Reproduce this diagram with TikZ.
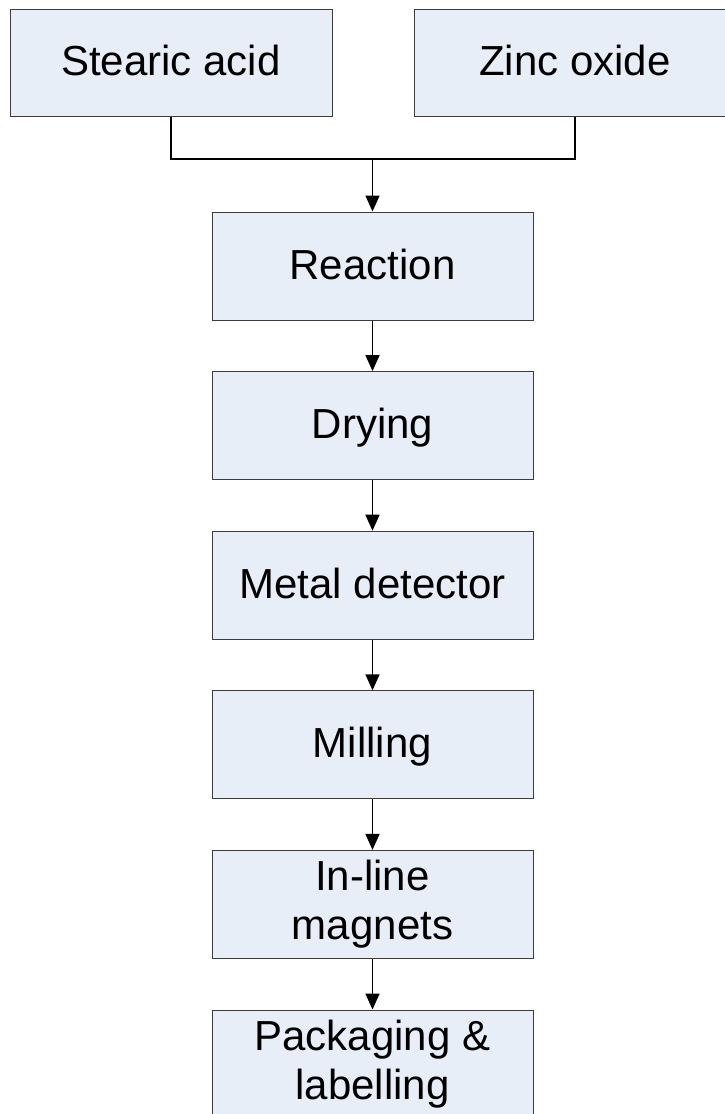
\documentclass[tikz,border=0pt]{standalone}
\usepackage{fontspec}
\setmainfont{Liberation Sans}
\usetikzlibrary{arrows.meta}
\definecolor{boxfill}{RGB}{232,238,247}
\definecolor{boxline}{RGB}{60,60,60}
\begin{document}
\begin{tikzpicture}[x=1pt,y=1pt,
  procbox/.style={draw=boxline, line width=1pt, fill=boxfill, inner sep=0pt,
    minimum width=321pt, minimum height=108pt,
    font=\fontsize{42}{49}\selectfont, align=center},
  oneline/.style={text height=30pt, text depth=4pt},
  conn/.style={line width=1.6pt, black},
  arr/.style={conn, -{Triangle[length=16pt,width=14pt]}}]
\useasboundingbox (0,0) rectangle (725,-1114);
\clip (0,0) rectangle (725,-1114);
\node[procbox, oneline, minimum width=322pt, minimum height=107pt] (sa) at (171,-62.5) {Stearic acid};
\node[procbox, oneline, minimum width=322pt, minimum height=107pt] (zo) at (575,-62.5) {Zinc oxide};
\node[procbox, oneline] (re) at (372.5,-266) {Reaction};
\node[procbox, oneline] (dr) at (372.5,-425.6) {Drying};
\node[procbox, oneline] (md) at (372.5,-585.2) {Metal detector};
\node[procbox, oneline] (mi) at (372.5,-744.8) {Milling};
\node[procbox] (mg) at (372.5,-904.4) {In-line\\magnets};
\node[procbox] (pk) at (372.5,-1064) {Packaging \&\\labelling};
\coordinate (j) at (372.5,-159);
\draw[conn] (sa.south) |- (j) -| (zo.south);
\draw[arr] (j) -- (re.north);
\draw[arr] (re) -- (dr);
\draw[arr] (dr) -- (md);
\draw[arr] (md) -- (mi);
\draw[arr] (mi) -- (mg);
\draw[arr] (mg) -- (pk);
\end{tikzpicture}
\end{document}
